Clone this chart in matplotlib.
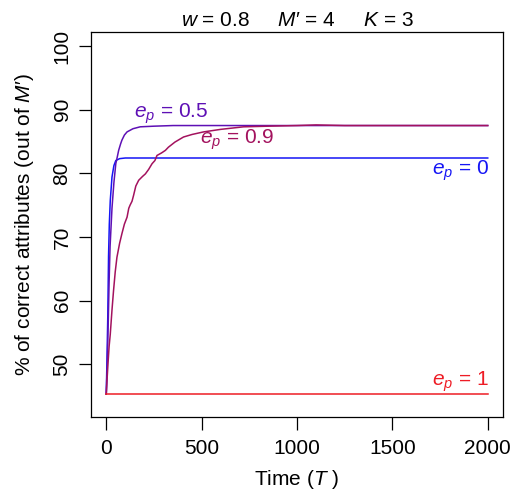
#!/usr/bin/env python3
# share of correct attributes over time for several e_p values
import matplotlib
matplotlib.use("Agg")
import matplotlib.pyplot as plt

plt.rcParams['font.family'] = ['Liberation Sans', 'DejaVu Sans']
plt.rcParams['mathtext.fontset'] = 'custom'
plt.rcParams['mathtext.rm'] = 'Liberation Sans'
plt.rcParams['mathtext.it'] = 'Liberation Sans:italic'
plt.rcParams['mathtext.cal'] = 'Liberation Sans:italic'

# values
t_ep0 = [0, 4, 8, 12, 16, 21, 30, 40, 50, 70, 100, 2000]
y_ep0 = [45.3, 51.0, 57.5, 67.0, 72.0, 75.7, 79.4, 81.2, 82.0, 82.3, 82.4, 82.4]

t_ep05 = [0, 5, 10, 15, 20, 30, 40, 50, 58, 65, 75, 82, 95, 109, 140, 178, 250, 350, 2000]
y_ep05 = [45.3, 50.0, 56.0, 63.0, 68.5, 74.5, 78.5, 81.5, 82.6, 83.6, 84.6, 85.2, 86.0, 86.5,
          87.0, 87.3, 87.4, 87.5, 87.5]

t_ep09 = [0, 5, 10, 15, 21, 30, 38, 47, 56, 70, 82, 95, 109, 118, 125, 135, 143, 155, 170,
          180, 190, 205, 222, 240, 255, 266, 290, 310, 326, 360, 405, 450, 510, 600, 720,
          850, 1000, 1100, 1250, 2000]
y_ep09 = [45.3, 48.0, 50.5, 52.8, 54.7, 58.5, 61.5, 64.5, 66.8, 69.0, 70.5, 72.0, 73.1, 74.5,
          75.0, 75.6, 76.5, 78.0, 78.9, 79.2, 79.5, 79.9, 80.6, 81.5, 82.0, 82.8, 83.2, 83.6,
          84.1, 84.9, 85.7, 86.1, 86.5, 86.9, 87.3, 87.4, 87.5, 87.6, 87.5, 87.5]

t_ep1 = [0, 2000]
y_ep1 = [45.3, 45.3]

col_ep0 = '#1515F5'
col_ep05 = '#5E10B5'
col_ep09 = '#A3125E'
col_ep1 = '#EE1C25'

x_ticks = [0, 500, 1000, 1500, 2000]
y_ticks = [50, 60, 70, 80, 90, 100]

fig = plt.figure(figsize=(5.11, 4.92), dpi=100)
ax = fig.add_axes([91 / 511, 75 / 492, 412 / 511, 385 / 492])

ax.plot(t_ep0, y_ep0, color=col_ep0, lw=1.1)
ax.plot(t_ep05, y_ep05, color=col_ep05, lw=1.1)
ax.plot(t_ep09, y_ep09, color=col_ep09, lw=1.1)
ax.plot(t_ep1, y_ep1, color=col_ep1, lw=1.1)

fs = 15
ax.text(145, 89.4, r'$e_p$ = 0.5', color=col_ep05, fontsize=fs, ha='left', va='center')
ax.text(490, 85.2, r'$e_p$ = 0.9', color=col_ep09, fontsize=fs, ha='left', va='center')
ax.text(2005, 80.4, r'$e_p$ = 0', color=col_ep0, fontsize=fs, ha='right', va='center')
ax.text(2005, 47.3, r'$e_p$ = 1', color=col_ep1, fontsize=fs, ha='right', va='center')

ax.set_xlim(-80, 2080)
ax.set_ylim(41.7, 102.2)
ax.set_xticks(x_ticks)
ax.set_yticks(y_ticks)
ax.set_yticklabels([str(v) for v in y_ticks], rotation=90, va='center')
ax.tick_params(axis='both', length=9, width=0.9, labelsize=fs, direction='out')
ax.tick_params(axis='x', pad=7)
ax.tick_params(axis='y', pad=5)
for s in ax.spines.values():
    s.set_linewidth(0.9)

ax.set_xlabel(r'Time ($T$ )', fontsize=fs, labelpad=7)
ax.set_ylabel("% of correct attributes (out of $M$\u2032)", fontsize=fs, labelpad=12)
ax.set_title("$w$ = 0.8     $M$\u2032 = 4     $K$ = 3", fontsize=15, pad=4)

fig.savefig('out.png', dpi=100)
